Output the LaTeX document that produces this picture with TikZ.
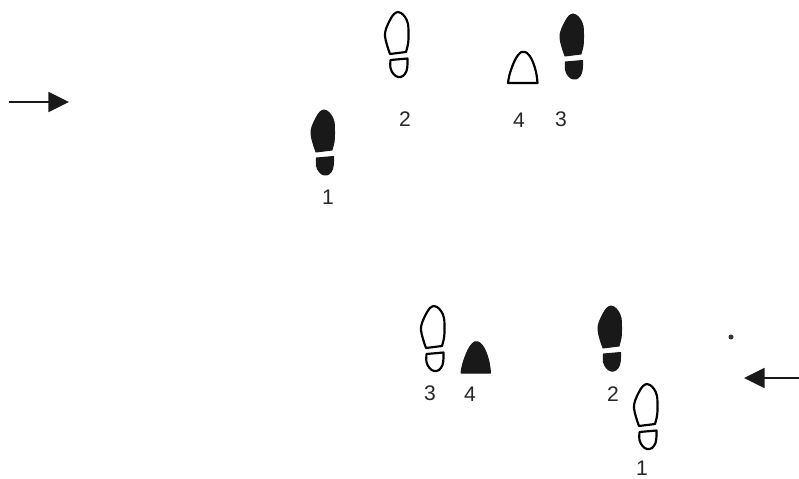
\documentclass[tikz,border=0pt]{standalone}
\usepackage{fontspec}
\setmainfont{Liberation Sans}
\usetikzlibrary{arrows.meta}

\begin{document}
\begin{tikzpicture}[
  x=0.03cm, y=-0.03cm,
  lbl/.style={inner sep=0pt, font=\fontsize{18}{20}\selectfont, text=black!85},
  open/.style={draw=black, line width=0.065cm, line join=round, fill=white},
  solid/.style={draw=black!90, line width=0.03cm, line join=round, fill=black!90},
  arr/.style={-{Triangle[length=0.62cm, width=0.6cm]}, line width=0.05cm, black!90},
  pics/shoe/.style={code={
    \path[pic actions] plot[smooth, tension=0.6] coordinates {(8,40) (10,32) (10.5,24) (10,12) (7,5) (3,1) (0,0) (-4,2) (-8,8) (-12,17) (-13,24) (-11,33) (-8,42)} -- cycle;
    \path[pic actions] plot[smooth, tension=0.6] coordinates {(-7.5,48) (-7.5,56) (-4.5,62) (0,65) (5,64) (8.5,59) (9.5,52) (9.5,46.5)} -- cycle;
  }},
  pics/front/.style={code={
    \path[pic actions] plot[smooth, tension=0.7] coordinates {(-15,31) (-13,21) (-8,8) (-3,1) (0,0) (4,1) (9,8) (13,20) (14.5,31)} -- cycle;
  }}
]
\useasboundingbox (0,0) rectangle (799,479);

% Upper row
\coordinate (in1) at (9,102);
\coordinate (out1) at (69,102);
\draw[arr] (in1) -- (out1);

\pic[solid] at (324,110) {shoe};
\pic[open] at (398,12) {shoe};
\pic[solid] at (573,14) {shoe};
\pic[open] at (523,52) {front};

\node[lbl] (u1) at (328,197) {1};
\node[lbl] (u2) at (405,119) {2};
\node[lbl] (u3) at (561,119) {3};
\node[lbl] (u4) at (519,120) {4};

% Lower row
\coordinate (in2) at (799,378);
\coordinate (out2) at (744,378);
\draw[arr] (in2) -- (out2);

\pic[open] at (647,384) {shoe};
\pic[solid] at (611,306) {shoe};
\pic[open] at (434,306) {shoe};
\pic[solid] at (476,342) {front};

\node[lbl] (l1) at (642,468) {1};
\node[lbl] (l2) at (613,394) {2};
\node[lbl] (l3) at (430,393) {3};
\node[lbl] (l4) at (470,394) {4};

% Speck
\fill[black!80] (731,337) circle (2.5);
\end{tikzpicture}
\end{document}
